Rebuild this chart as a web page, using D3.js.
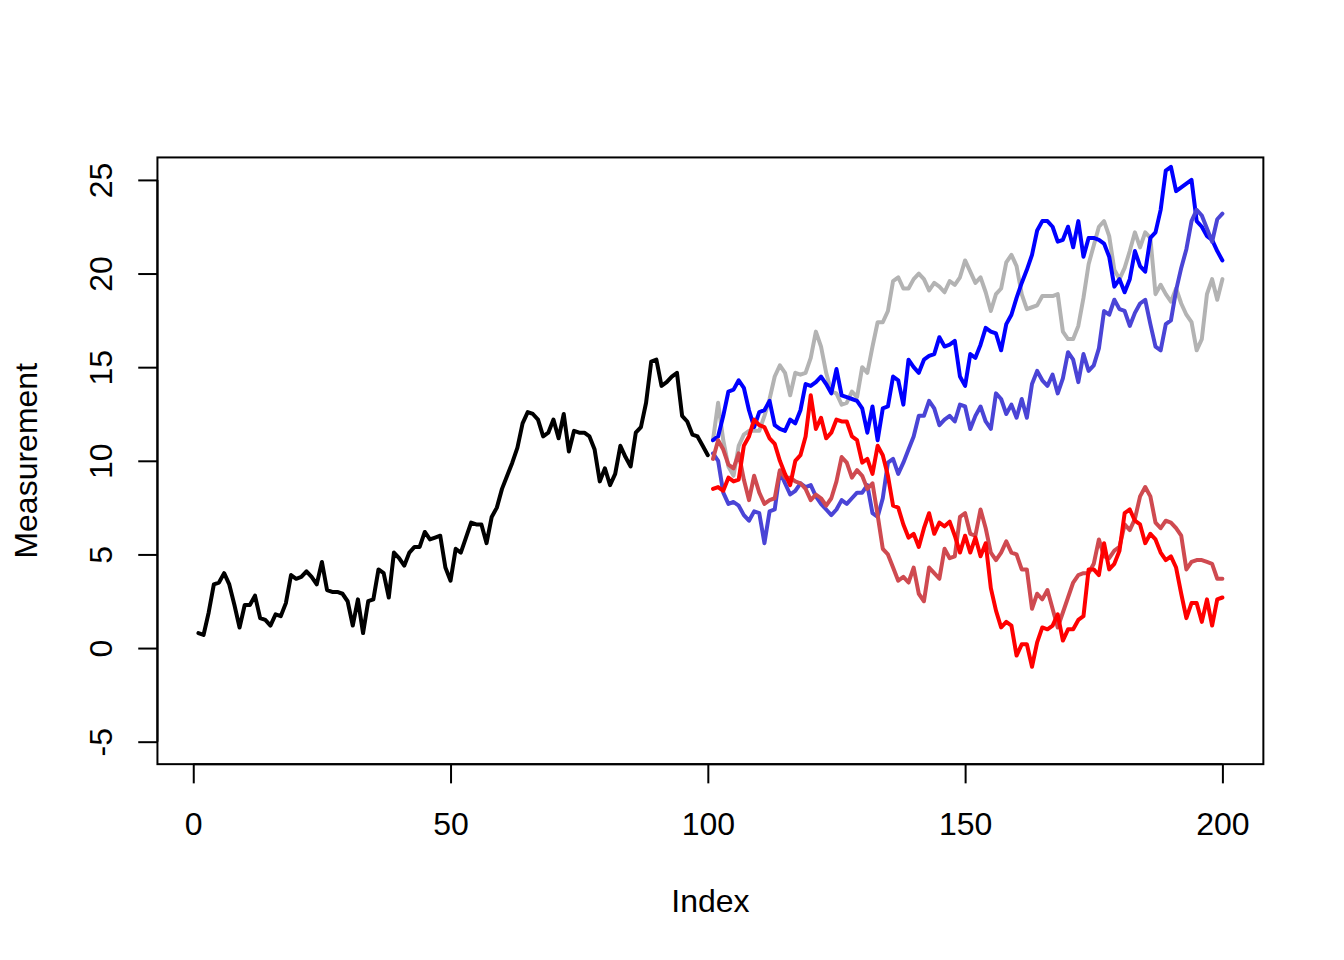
<!DOCTYPE html>
<html>
<head>
<meta charset="utf-8">
<script src="https://cdn.jsdelivr.net/npm/d3@7"></script>
<style>
  html, body { margin: 0; padding: 0; background: #ffffff; }
  svg { display: block; }
  text { font-family: "Liberation Sans", Arial, Helvetica, sans-serif; }
</style>
</head>
<body>
<svg id="chart" width="1344" height="960"></svg>
<script>
// ---------- data ----------
const historyIndex = d3.range(1, 101);
const forecastIndex = d3.range(101, 201);

const history = [0.8,0.7,1.9,3.4,3.5,4.0,3.4,2.3,1.1,2.3,2.3,2.8,1.6,1.5,1.2,1.8,1.7,2.4,3.9,3.7,
  3.8,4.1,3.8,3.4,4.6,3.1,3.0,3.0,2.9,2.5,1.2,2.6,0.8,2.5,2.6,4.2,4.0,2.7,5.1,4.8,
  4.4,5.1,5.4,5.4,6.2,5.8,5.9,6.0,4.3,3.6,5.3,5.1,5.9,6.7,6.6,6.6,5.6,7.0,7.5,8.5,
  9.2,9.9,10.7,12.0,12.6,12.5,12.2,11.3,11.5,12.2,11.2,12.5,10.5,11.6,11.5,11.5,11.3,10.6,8.9,9.6,
  8.7,9.3,10.8,10.2,9.7,11.5,11.8,13.1,15.3,15.4,14.0,14.2,14.5,14.7,12.4,12.1,11.4,11.3,10.8,10.3];

const seriesGray = [11.1,13.1,11.1,9.7,9.2,10.8,11.4,11.6,11.6,11.6,12.4,13.3,14.5,15.1,14.7,13.5,14.7,14.6,14.7,15.5,
  16.9,16.1,14.7,13.7,13.6,13.0,13.1,13.7,13.4,15.0,14.7,16.1,17.4,17.4,18.0,19.6,19.8,19.2,19.2,19.7,
  20.0,19.7,19.1,19.5,19.3,19.0,19.6,19.4,19.8,20.7,20.1,19.5,19.8,19.0,18.0,18.9,19.2,20.6,21.0,20.4,
  18.9,18.1,18.2,18.3,18.8,18.8,18.8,18.9,16.9,16.5,16.5,17.2,18.7,20.5,21.5,22.5,22.8,22.0,20.2,19.7,
  20.3,21.2,22.2,21.4,22.2,21.9,18.9,19.4,18.9,18.5,19.2,18.4,17.8,17.4,15.9,16.5,18.9,19.7,18.6,19.7];

const seriesBlue = [11.1,11.3,12.4,13.7,13.8,14.3,13.9,12.7,11.8,12.6,12.7,13.2,11.9,11.7,11.6,12.2,12.0,12.7,14.1,14.0,
  14.2,14.5,14.1,13.6,14.9,13.5,13.4,13.3,13.2,12.8,11.5,12.9,11.1,12.8,12.9,14.5,14.3,13.0,15.4,15.0,
  14.7,15.4,15.6,15.7,16.6,16.1,16.2,16.4,14.5,14.0,15.7,15.5,16.2,17.1,16.9,16.8,15.9,17.3,17.8,18.7,
  19.5,20.2,21.0,22.3,22.8,22.8,22.5,21.7,21.8,22.5,21.4,22.8,20.9,21.9,21.9,21.8,21.6,20.9,19.3,19.7,
  19.0,19.7,21.2,20.4,20.1,21.9,22.2,23.4,25.5,25.7,24.4,24.6,24.8,25.0,22.8,22.5,22.0,21.8,21.2,20.7];

const seriesSlate = [10.4,10.0,8.3,7.7,7.8,7.6,7.1,6.8,7.3,7.2,5.6,7.3,7.4,9.4,8.8,8.2,8.4,8.8,8.6,8.7,
  8.1,7.7,7.4,7.1,7.4,7.9,7.7,8.0,8.3,8.3,8.7,7.2,7.0,8.0,9.9,10.1,9.3,9.9,10.6,11.3,
  12.4,12.4,13.2,12.8,11.9,12.2,12.4,12.1,13.0,12.9,11.7,12.4,12.9,12.1,11.7,13.6,13.3,12.5,13.0,12.3,
  13.3,12.3,14.1,14.8,14.3,14.0,14.6,13.6,14.4,15.8,15.4,14.2,15.7,14.8,15.1,16.0,18.0,17.8,18.6,18.1,
  18.0,17.2,17.9,18.4,18.6,17.3,16.1,15.9,17.3,17.5,19.1,20.3,21.3,22.8,23.4,23.1,22.4,21.7,22.9,23.2];

const seriesIndianRed = [10.1,11.1,10.6,9.8,9.6,10.4,9.0,7.9,9.2,8.3,7.7,7.9,8.0,9.5,9.1,9.1,8.9,8.8,8.5,7.9,
  8.2,8.0,7.6,8.0,8.9,10.2,9.9,9.1,9.5,9.2,8.5,8.8,7.1,5.3,5.0,4.3,3.6,3.8,3.5,4.3,
  2.9,2.5,4.3,4.0,3.7,5.3,4.8,4.9,7.0,7.2,6.1,6.0,7.4,6.4,5.1,4.7,5.1,5.7,5.1,5.0,
  4.2,4.2,2.1,2.9,2.6,3.1,2.1,1.1,1.9,2.7,3.5,3.9,4.0,4.0,4.5,5.8,4.9,4.8,5.2,5.4,
  6.6,6.3,6.9,8.1,8.6,8.1,6.7,6.4,6.8,6.7,6.4,6.0,4.2,4.6,4.7,4.7,4.6,4.5,3.7,3.7];

const seriesRed = [8.5,8.6,8.4,9.1,8.9,9.0,10.8,11.3,12.2,11.9,11.8,11.2,10.9,10.0,9.3,8.7,10.0,10.3,11.3,13.5,
  11.7,12.3,11.2,11.5,12.2,12.1,12.1,11.3,11.1,9.9,10.1,9.3,10.8,10.3,9.2,7.6,7.5,6.6,5.9,6.1,
  5.4,6.4,7.2,6.1,6.7,6.5,6.75,6.0,5.1,6.0,5.1,5.9,4.9,5.6,3.2,2.0,1.1,1.4,1.2,-0.4,
  0.2,0.2,-1.0,0.3,1.1,1.0,1.2,1.8,0.4,1.0,1.0,1.5,1.7,4.2,4.2,3.9,5.6,4.2,4.5,5.2,
  7.2,7.4,6.8,6.6,5.6,6.1,5.8,5.1,4.7,4.9,4.3,2.9,1.6,2.4,2.4,1.4,2.6,1.2,2.6,2.7];

const xTicks = [0, 50, 100, 150, 200];
const yTicks = [-5, 0, 5, 10, 15, 20, 25];
const xTitle = "Index";
const yTitle = "Measurement";

// ---------- layout ----------
const W = 1344, H = 960;
const lineH = 38.4;
const plot = { left: 4.1 * lineH, right: W - 2.1 * lineH, top: 4.1 * lineH, bottom: H - 5.1 * lineH };

const xData = [1, 200], yData = [-5, 25];
const xPad = (xData[1] - xData[0]) * 0.04, yPad = (yData[1] - yData[0]) * 0.04;
const x = d3.scaleLinear().domain([xData[0] - xPad, xData[1] + xPad]).range([plot.left, plot.right]);
const y = d3.scaleLinear().domain([yData[0] - yPad, yData[1] + yPad]).range([plot.bottom, plot.top]);

const svg = d3.select("#chart");
svg.append("rect").attr("width", W).attr("height", H).attr("fill", "#fff");

// clip
svg.append("clipPath").attr("id", "clip").append("rect")
  .attr("x", plot.left).attr("y", plot.top)
  .attr("width", plot.right - plot.left).attr("height", plot.bottom - plot.top);

const g = svg.append("g").attr("clip-path", "url(#clip)");
const line = d3.line().x(d => x(d[0])).y(d => y(d[1]));

function drawSeries(idx, vals, color) {
  g.append("path")
    .datum(idx.map((i, k) => [i, vals[k]]))
    .attr("d", line)
    .attr("fill", "none")
    .attr("stroke", color)
    .attr("stroke-width", 4)
    .attr("stroke-linejoin", "round")
    .attr("stroke-linecap", "round");
}

drawSeries(historyIndex, history, "#000000");
drawSeries(forecastIndex, seriesGray, "#B3B3B3");
drawSeries(forecastIndex, seriesBlue, "#0000FF");
drawSeries(forecastIndex, seriesSlate, "#4A44D6");
drawSeries(forecastIndex, seriesIndianRed, "#CF4A50");
drawSeries(forecastIndex, seriesRed, "#FF0000");

// box
svg.append("rect")
  .attr("x", plot.left).attr("y", plot.top)
  .attr("width", plot.right - plot.left).attr("height", plot.bottom - plot.top)
  .attr("fill", "none").attr("stroke", "#000").attr("stroke-width", 2);

// x axis
const xAxis = svg.append("g")
  .attr("transform", `translate(0,${plot.bottom})`)
  .call(d3.axisBottom(x).tickValues(xTicks).tickSize(lineH / 2).tickPadding(28.5).tickFormat(d3.format("d")));
xAxis.select(".domain").remove();
xAxis.selectAll(".tick line").attr("stroke", "#000").attr("stroke-width", 2);
xAxis.selectAll(".tick text").attr("font-size", 32).attr("fill", "#000")
  .attr("font-family", "'Liberation Sans', Arial, sans-serif");
xAxis.append("line")
  .attr("x1", x(xTicks[0])).attr("x2", x(xTicks[xTicks.length - 1]))
  .attr("stroke", "#000").attr("stroke-width", 2);

// y axis
const yAxis = svg.append("g")
  .attr("transform", `translate(${plot.left},0)`)
  .call(d3.axisLeft(y).tickValues(yTicks).tickSize(lineH / 2).tickFormat(d3.format("d")));
yAxis.select(".domain").remove();
yAxis.selectAll(".tick line").attr("stroke", "#000").attr("stroke-width", 2);
yAxis.selectAll(".tick text")
  .attr("font-size", 32).attr("fill", "#000")
  .attr("font-family", "'Liberation Sans', Arial, sans-serif")
  .attr("x", null).attr("dy", null)
  .attr("text-anchor", "middle")
  .attr("transform", "translate(-45,0) rotate(-90)")
  .text(d => d < 0 ? "-" + Math.abs(d) : String(d));
yAxis.append("line")
  .attr("y1", y(yTicks[0])).attr("y2", y(yTicks[yTicks.length - 1]))
  .attr("stroke", "#000").attr("stroke-width", 2);

// titles
svg.append("text")
  .attr("x", (plot.left + plot.right) / 2).attr("y", 912)
  .attr("text-anchor", "middle").attr("font-size", 32).attr("fill", "#000")
  .text(xTitle);
svg.append("text")
  .attr("transform", `translate(37,${(plot.top + plot.bottom) / 2}) rotate(-90)`)
  .attr("text-anchor", "middle").attr("font-size", 32).attr("fill", "#000")
  .text(yTitle);
</script>
</body>
</html>
